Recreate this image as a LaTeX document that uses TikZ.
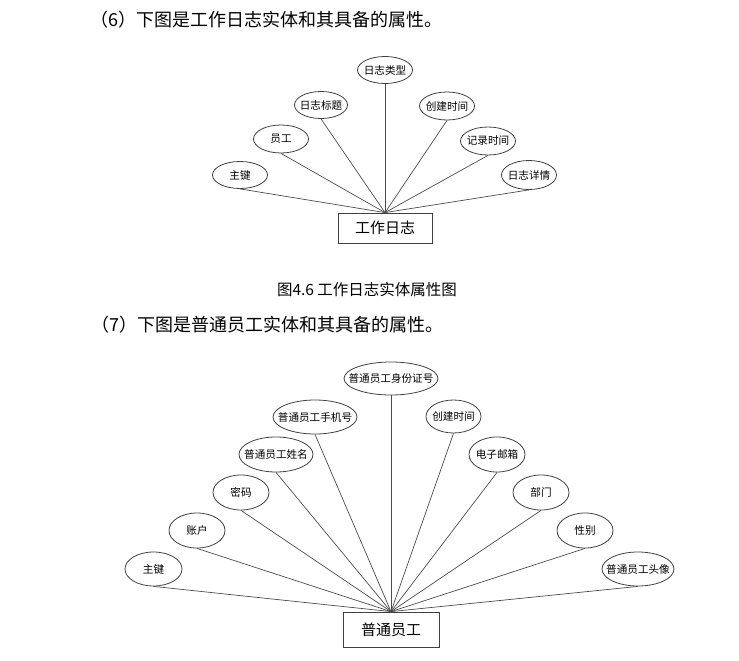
\documentclass[tikz,border=0pt]{standalone}
\usepackage{fontspec}
\setmainfont{Noto Sans CJK SC}
\usetikzlibrary{shapes.geometric}
\newcommand{\alabel}[1]{\makebox[0pt]{#1}}
\tikzset{
  attr/.style={ellipse, draw=black!75, line width=0.8pt, inner sep=0pt, font=\fontsize{10.6}{12}\selectfont},
  entity/.style={rectangle, draw=black!75, line width=0.8pt, inner sep=0pt, font=\fontsize{15}{16}\selectfont},
  link/.style={black!70, line width=0.7pt}
}
\begin{document}
\begin{tikzpicture}[x=1pt, y=-1pt]
  \useasboundingbox (0,0) rectangle (739,661);
  % Texts
  \node[anchor=west, font=\fontsize{18}{20}\selectfont] (head6) at (87,19.5) {（6）下图是工作日志实体和其具备的属性。};
  \node[font=\fontsize{15.5}{17}\selectfont] (cap46) at (367,290) {图4.6 工作日志实体属性图};
  \node[anchor=west, font=\fontsize{18}{20}\selectfont] (head7) at (88,325) {（7）下图是普通员工实体和其具备的属性。};
  % Work log entity
  \node[entity, minimum width=94, minimum height=30] (log) at (385,228) {工作日志};
  \node[attr, minimum width=55, minimum height=27] (logkey) at (240,175) {\alabel{主键}};
  \node[attr, minimum width=55, minimum height=28] (logstaff) at (281,139) {\alabel{员工}};
  \node[attr, minimum width=53, minimum height=27] (logtitle) at (321,105) {\alabel{日志标题}};
  \node[attr, minimum width=55, minimum height=27] (logtype) at (385,70) {\alabel{日志类型}};
  \node[attr, minimum width=55, minimum height=28] (logctime) at (447,106) {\alabel{创建时间}};
  \node[attr, minimum width=55, minimum height=28] (logrtime) at (488,141) {\alabel{记录时间}};
  \node[attr, minimum width=55, minimum height=29] (logdetail) at (529,175) {\alabel{日志详情}};
  \foreach \a in {logkey,logstaff,logtitle,logtype,logctime,logrtime,logdetail}
    \draw[link] (\a.south) -- (log.north);
  % Staff entity
  \node[entity, minimum width=96, minimum height=35] (staff) at (391,629.5) {普通员工};
  \node[attr, minimum width=57, minimum height=34] (stkey) at (153.5,569) {\alabel{主键}};
  \node[attr, minimum width=56, minimum height=35] (stacct) at (197,530.5) {\alabel{账户}};
  \node[attr, minimum width=56, minimum height=35] (stpwd) at (241,492.5) {\alabel{密码}};
  \node[attr, minimum width=74, minimum height=35] (stname) at (276,454.5) {\alabel{普通员工姓名}};
  \node[attr, minimum width=84, minimum height=34] (stphone) at (315,417) {\alabel{普通员工手机号}};
  \node[attr, minimum width=94, minimum height=33] (stid) at (391,378.5) {\alabel{普通员工身份证号}};
  \node[attr, minimum width=55, minimum height=33] (stctime) at (453.5,416.5) {\alabel{创建时间}};
  \node[attr, minimum width=56, minimum height=35] (stmail) at (497,454.5) {\alabel{电子邮箱}};
  \node[attr, minimum width=56, minimum height=35] (stdept) at (541,492.5) {\alabel{部门}};
  \node[attr, minimum width=56, minimum height=35] (stsex) at (585,530.5) {\alabel{性别}};
  \node[attr, minimum width=72, minimum height=34] (stphoto) at (638,569) {\alabel{普通员工头像}};
  \foreach \a in {stkey,stacct,stpwd,stname,stphone,stid,stctime,stmail,stdept,stsex,stphoto}
    \draw[link] (\a.south) -- (staff.north);
\end{tikzpicture}
\end{document}
